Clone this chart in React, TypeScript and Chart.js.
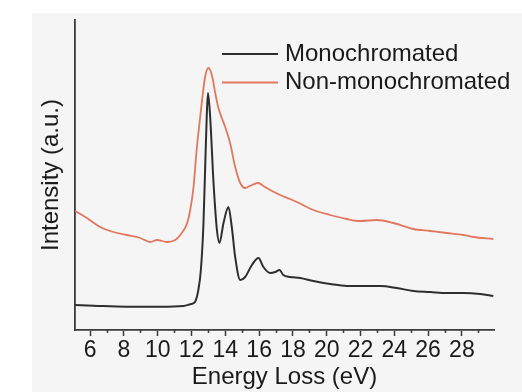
import React, { useEffect, useRef } from 'react';
import { Chart, registerables } from 'chart.js';

Chart.register(...registerables);

// ---- Data ----
const seriesLabels = ['Monochromated', 'Non-monochromated'];

const monoEnergy = [
  5.11, 6.2, 8.17, 10.14, 11.52, 11.92, 12.2, 12.4, 12.55, 12.7, 12.8, 12.9, 12.97,
  13.1, 13.3, 13.5, 13.65, 13.89, 14.18, 14.38, 14.58, 14.88, 15.17, 15.57, 15.96,
  16.25, 16.65, 16.95, 17.2, 17.43, 17.83, 18.43, 19.21, 20.2, 21.19, 22.17, 23.16,
  24.14, 25.13, 26.12, 27.11, 28.09, 29.08, 29.86,
];
const monoIntensity = [
  25, 24.3, 23.3, 23.3, 24, 25.7, 28, 40, 60, 105, 160, 215, 237,
  213, 147, 100, 87, 107, 123, 103, 73, 50, 53, 65, 72,
  63, 57, 58, 60, 55, 53, 52, 49, 46, 44, 44, 44,
  42, 39, 38, 37, 37, 36, 34,
];

const nonMonoEnergy = [
  5.11, 5.8, 6.59, 7.38, 8.17, 8.96, 9.55, 9.95, 10.54, 11.03, 11.33, 11.72, 11.92,
  12.11, 12.3, 12.51, 12.8, 13.0, 13.2, 13.4, 13.59, 13.99, 14.28, 14.58, 14.88,
  15.17, 15.57, 15.96, 16.25, 16.65, 17.24, 17.83, 18.23, 19.21, 20.2, 21.19, 21.98,
  22.96, 23.95, 25.13, 26.12, 27.11, 28.09, 28.68, 29.86,
];
const nonMonoIntensity = [
  119, 112, 103, 98, 95, 92, 88, 90, 88, 90, 95, 106, 120,
  142, 180, 213, 253, 262, 255, 237, 222, 203, 187, 163, 147,
  142, 145, 147, 144, 140, 135, 131, 128, 120, 115, 111, 109,
  110, 107, 101, 99, 97, 95, 93, 91,
];

const xTickLabels = [6, 8, 10, 12, 14, 16, 18, 20, 22, 24, 26, 28];
const xMinorTicks = [7, 9, 11, 13, 15, 17, 19, 21, 23, 25, 27, 29];
const xMin = 5.1;
const xMax = 29.9;
const yMin = 0;
const yMax = 310;

const FONT = '"Liberation Sans", Arial, Helvetica, sans-serif';
const TEXT = '#1a1a1a';
const AXIS = '#3a3a3a';

const backgroundPlugin = {
  id: 'pageBackground',
  beforeDraw(chart: any) {
    const { ctx, width, height } = chart;
    ctx.save();
    ctx.fillStyle = '#ffffff';
    ctx.fillRect(0, 0, width, height);
    ctx.fillStyle = '#f5f5f5';
    ctx.fillRect(32, 13, width - 32, height - 13);
    ctx.restore();
  },
};

const insideLegendPlugin = {
  id: 'insideLegend',
  afterDraw(chart: any) {
    const { ctx } = chart;
    ctx.save();
    ctx.font = `24px ${FONT}`;
    ctx.textBaseline = 'middle';
    ctx.textAlign = 'left';
    chart.data.datasets.forEach((ds: any, i: number) => {
      const y = 54 + i * 28.5;
      ctx.strokeStyle = ds.borderColor;
      ctx.lineWidth = 2;
      ctx.beginPath();
      ctx.moveTo(222, y);
      ctx.lineTo(278, y);
      ctx.stroke();
      ctx.fillStyle = TEXT;
      ctx.fillText(ds.label, 285, y);
    });
    ctx.restore();
  },
};

export default function App() {
  const canvasRef = useRef<HTMLCanvasElement | null>(null);

  useEffect(() => {
    if (!canvasRef.current) return;
    const chart = new Chart(canvasRef.current, {
      type: 'line',
      data: {
        datasets: [
          {
            label: seriesLabels[0],
            data: monoEnergy.map((e, i) => ({ x: e, y: monoIntensity[i] })),
            borderColor: '#2e2e2e',
            borderWidth: 2,
            pointRadius: 0,
            tension: 0.35,
            cubicInterpolationMode: 'monotone',
          },
          {
            label: seriesLabels[1],
            data: nonMonoEnergy.map((e, i) => ({ x: e, y: nonMonoIntensity[i] })),
            borderColor: '#e2775f',
            borderWidth: 1.8,
            pointRadius: 0,
            tension: 0.35,
            cubicInterpolationMode: 'monotone',
          },
        ],
      },
      options: {
        animation: false,
        responsive: false,
        devicePixelRatio: 1,
        layout: { padding: { top: 20, right: 28, left: 0, bottom: 0 } },
        plugins: {
          legend: { display: false },
          tooltip: { enabled: false },
        },
        scales: {
          xMinor: {
            type: 'linear',
            position: 'bottom',
            weight: 0,
            min: xMin,
            max: xMax,
            afterBuildTicks: (scale: any) => {
              scale.ticks = xMinorTicks.map((v) => ({ value: v }));
            },
            afterFit: (scale: any) => {
              scale.height = 0;
            },
            ticks: { display: false },
            grid: {
              display: true,
              drawOnChartArea: false,
              drawTicks: true,
              tickLength: 3,
              tickColor: AXIS,
              tickWidth: 1.5,
            },
            border: { display: false },
          },
          x: {
            type: 'linear',
            position: 'bottom',
            weight: 1,
            min: xMin,
            max: xMax,
            afterBuildTicks: (scale: any) => {
              scale.ticks = xTickLabels.map((v) => ({ value: v }));
            },
            afterFit: (scale: any) => {
              scale.height = 62;
            },
            ticks: {
              color: TEXT,
              font: { family: FONT, size: 23 },
              padding: 1,
              maxRotation: 0,
              autoSkip: false,
            },
            grid: {
              display: true,
              drawOnChartArea: false,
              drawTicks: true,
              tickLength: 6,
              tickColor: AXIS,
              tickWidth: 1.5,
            },
            border: { display: true, color: AXIS, width: 1.8 },
            title: {
              display: true,
              text: 'Energy Loss (eV)',
              color: TEXT,
              font: { family: FONT, size: 24 },
              padding: { top: 0, bottom: 0 },
            },
          },
          y: {
            type: 'linear',
            position: 'left',
            min: yMin,
            max: yMax,
            afterFit: (scale: any) => {
              scale.width = 75;
            },
            ticks: { display: false },
            grid: { display: false },
            border: { display: true, color: AXIS, width: 1.8 },
            title: {
              display: true,
              text: 'Intensity (a.u.)',
              color: TEXT,
              font: { family: FONT, size: 24 },
              padding: { top: 37, bottom: 0 },
            },
          },
        },
      },
      plugins: [backgroundPlugin, insideLegendPlugin],
    } as any);
    return () => chart.destroy();
  }, []);

  return (
    <div style={{ position: 'absolute', left: 0, top: 0, width: 522, height: 392 }}>
      <canvas ref={canvasRef} width={522} height={392} style={{ display: 'block' }} />
    </div>
  );
}
